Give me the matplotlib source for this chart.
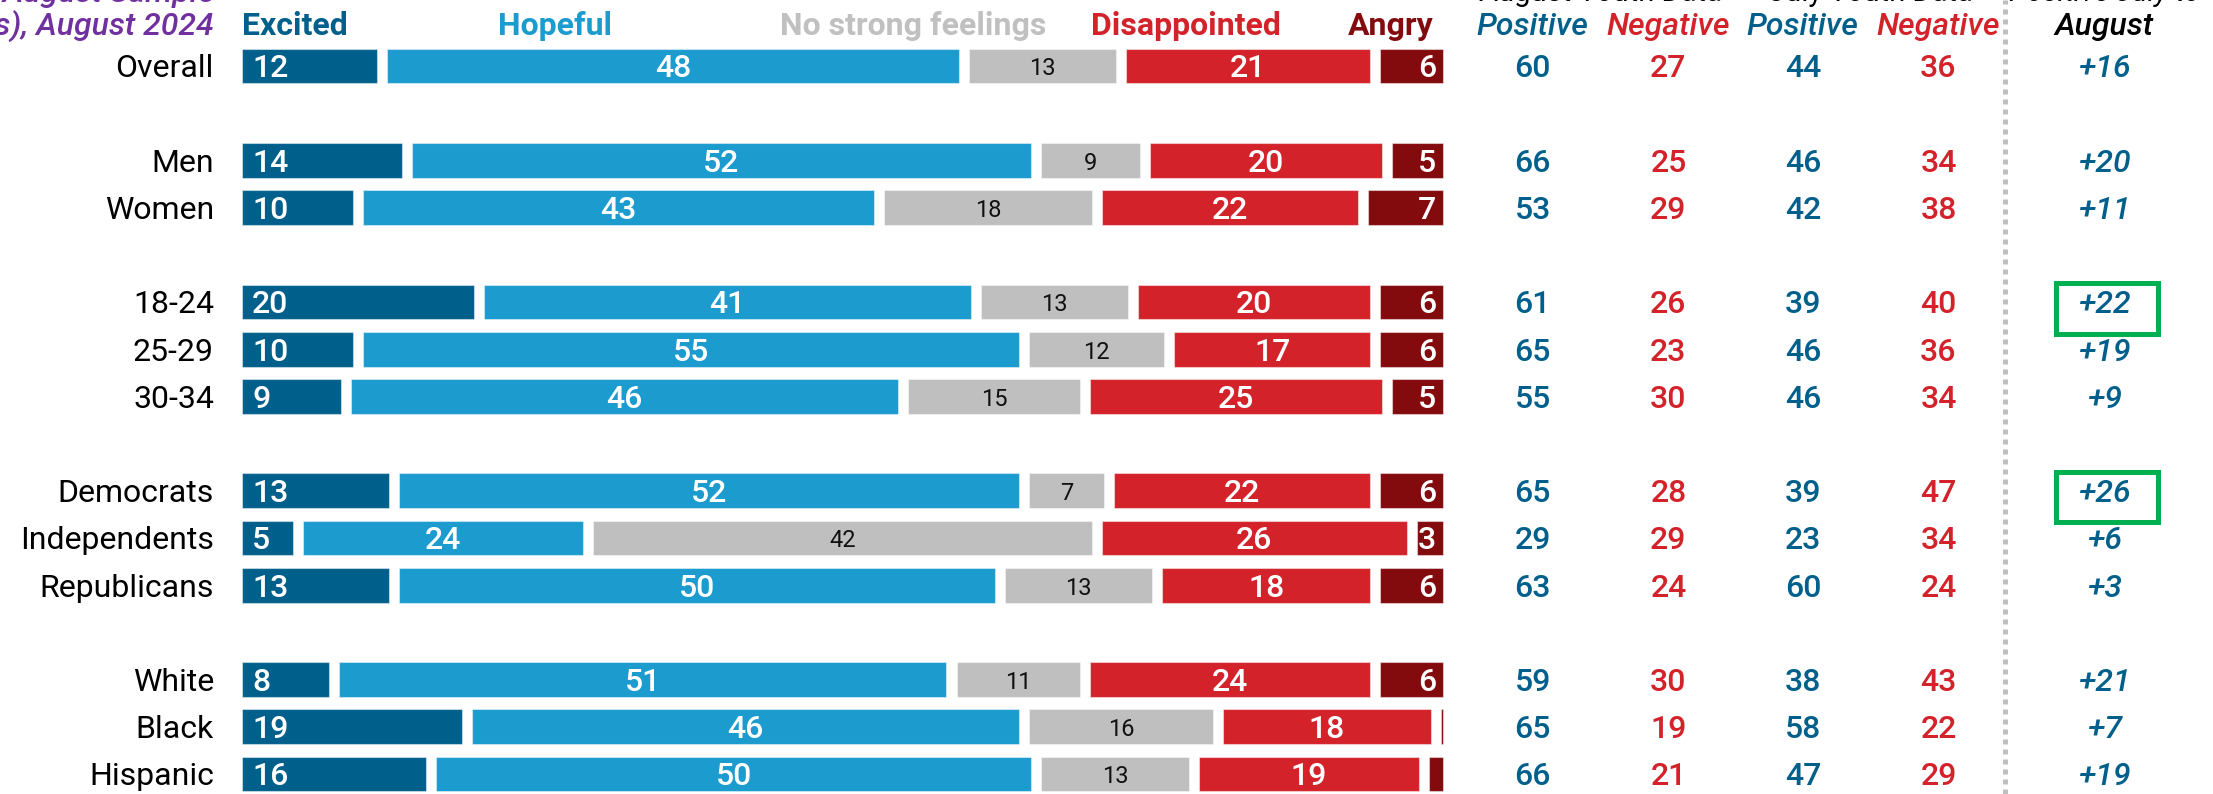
import numpy as np
import matplotlib.pyplot as plt
from matplotlib.patches import Rectangle

plt.rcParams['font.family'] = ['Roboto', 'DejaVu Sans']

# data
groups = ['Overall', 'Men', 'Women', '18-24', '25-29', '30-34',
          'Democrats', 'Independents', 'Republicans', 'White', 'Black', 'Hispanic']
gap_after = ['Overall', 'Women', '30-34', 'Republicans']

excited = [12, 14, 10, 20, 10, 9, 13, 5, 13, 8, 19, 16]
hopeful = [48, 52, 43, 41, 55, 46, 52, 24, 50, 51, 46, 50]
no_strong = [13, 9, 18, 13, 12, 15, 7, 42, 13, 11, 16, 13]
disappointed = [21, 20, 22, 20, 17, 25, 22, 26, 18, 24, 18, 19]
angry = [6, 5, 7, 6, 6, 5, 6, 3, 6, 6, 1, 2]

aug_pos = [60, 66, 53, 61, 65, 55, 65, 29, 63, 59, 65, 66]
aug_neg = [27, 25, 29, 26, 23, 30, 28, 29, 24, 30, 19, 21]
jul_pos = [44, 46, 42, 39, 46, 46, 39, 23, 60, 38, 58, 47]
jul_neg = [36, 34, 38, 40, 36, 34, 47, 34, 24, 43, 22, 29]
change = [16, 20, 11, 22, 19, 9, 26, 6, 3, 21, 7, 19]
highlight = ['18-24', 'Democrats']

series = ['Excited', 'Hopeful', 'No strong feelings', 'Disappointed', 'Angry']
colors = ['#00608b', '#1b9bce', '#bfbfbf', '#d3222a', '#830b0e']
head_colors = ['#00608b', '#1b9bce', '#c0c0c0', '#d3222a', '#830b0e']
blue, red, purple, green = '#00608b', '#d3222a', '#7030a0', '#00b050'

# row positions with blank rows between blocks
ypos = []
y = 0
for g in groups:
    ypos.append(y)
    y += 2 if g in gap_after else 1
ypos = np.array(ypos)

fig = plt.figure(figsize=(22.13, 7.94), dpi=100)
ax = fig.add_axes([0, 0, 1, 1])
ppu = 12.11   # pixels per percent
ppr = 47.2    # pixels per row
ax.set_xlim(-237 / ppu, (2213 - 237) / ppu)
ax.set_ylim((794 - 66) / ppr, -66 / ppr)
ax.axis('off')

dy = 0.06  # nudge text down to sit on bar centre
num_kw = dict(fontsize=23, fontweight='medium')

gap = 0.83
vals = np.array([excited, hopeful, no_strong, disappointed, angry], dtype=float)
left = np.zeros(len(groups))
for k, (name, c) in enumerate(zip(series, colors)):
    v = vals[k]
    ax.barh(ypos, v - gap, left=left + gap / 2, height=0.74, color=c,
            edgecolor=(1, 1, 1, 0.45), linewidth=0.8)
    for yy, l, w in zip(ypos, left, v):
        if w < 3:
            continue
        if k == 0:
            ax.text(l + 1.25, yy + dy, f'{int(w)}', ha='left', va='center', color='white', **num_kw)
        elif k == 4:
            ax.text(l + w - 1.0, yy + dy, f'{int(w)}', ha='right', va='center', color='white', **num_kw)
        elif k == 2:
            ax.text(l + w / 2, yy + dy, f'{int(w)}', ha='center', va='center', color='#111111', fontsize=17)
        else:
            ax.text(l + w / 2, yy + dy, f'{int(w)}', ha='center', va='center', color='white', **num_kw)
    left += v

# row labels
for g, yy in zip(groups, ypos):
    ax.text(-1.9, yy + dy, g, ha='right', va='center', fontsize=23, color='black')

# series headers
hy = (35 - 66) / ppr
head_x = [(0.4, 'left'), (26.3, 'center'), (55.8, 'center'), (78.4, 'center'), (98.8, 'right')]
for (hx, ha), name, c in zip(head_x, series, head_colors):
    ax.text(hx, hy, name, ha=ha, va='baseline', fontsize=23, fontweight='bold', color=c)

# title (cropped at the top-left)
ax.text(-1.9, hy, '(18-34 year-olds), August 2024', ha='right', va='baseline',
        fontsize=23, style='italic', fontweight='medium', color=purple)
ax.text(-1.9, (2 - 66) / ppr, 'Youth Voters, August Sample', ha='right', va='baseline',
        fontsize=23, style='italic', fontweight='medium', color=purple)

# right-hand columns
col_x = [107.0, 118.2, 129.3, 140.5]
col_data = [aug_pos, aug_neg, jul_pos, jul_neg]
col_colors = [blue, red, blue, red]
col_heads = ['Positive', 'Negative', 'Positive', 'Negative']
for cx, d, c, h in zip(col_x, col_data, col_colors, col_heads):
    ax.text(cx, hy, h, ha='center', va='baseline', fontsize=23, style='italic',
            fontweight='medium', color=c)
    for yy, v in zip(ypos, d):
        ax.text(cx, yy + dy, f'{v}', ha='center', va='center', color=c, **num_kw)

top_y = (1 - 66) / ppr
ax.text((col_x[0] + col_x[1]) / 2, top_y, 'August Youth Data', ha='center', va='baseline',
        fontsize=21, color='black')
ax.text((col_x[2] + col_x[3]) / 2, top_y, 'July Youth Data', ha='center', va='baseline',
        fontsize=21, color='black')

chg_x = 154.2
ax.text(chg_x, top_y, 'Positive July to', ha='center', va='baseline', fontsize=21,
        style='italic', color='black')
ax.text(chg_x, hy, 'August', ha='center', va='baseline', fontsize=23, style='italic',
        fontweight='medium', color='black')
for g, yy, v in zip(groups, ypos, change):
    ax.text(chg_x, yy + dy, f'+{v}', ha='center', va='center', fontsize=23, style='italic',
            fontweight='medium', color=blue)
    if g in highlight:
        ax.add_patch(Rectangle((150.2, yy - 0.40), 8.4, 1.07, fill=False,
                               edgecolor=green, linewidth=3.6))

# dotted separator
ax.axvline(146.0, color='#bfbfbf', linewidth=3.6, linestyle=(0, (1, 1)))

fig.savefig('out.png', dpi=100)
